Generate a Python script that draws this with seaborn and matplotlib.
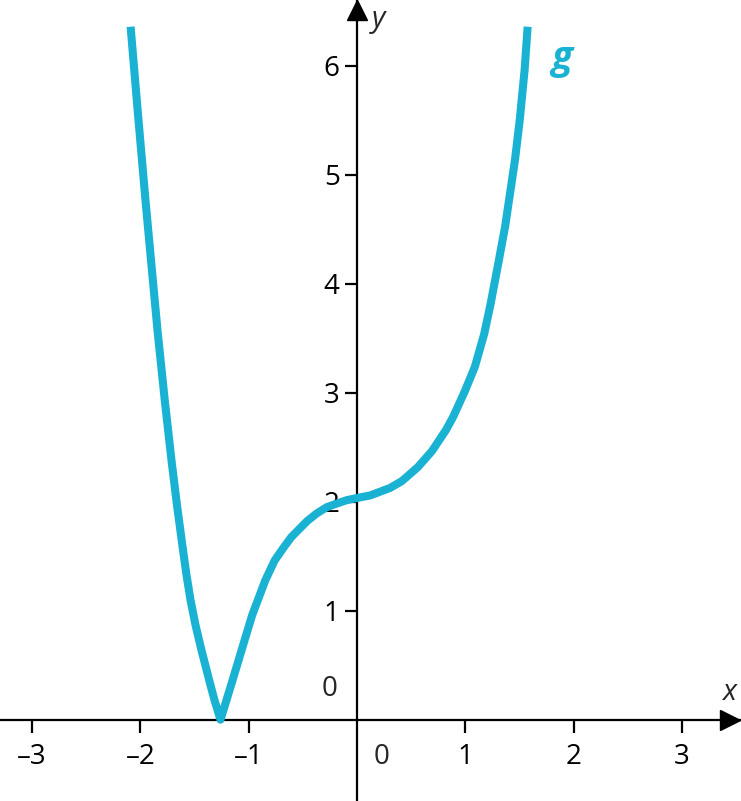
import matplotlib
matplotlib.use("Agg")
import matplotlib.pyplot as plt
import pandas as pd
import seaborn as sns

# curve g (left branch, cusp, middle and right branch)
x_vals = [-2.090, -2.023, -1.953, -1.842, -1.775, -1.713, -1.662, -1.611, -1.576, -1.537,
          -1.491, -1.436, -1.357, -1.316, -1.260,
          -1.148, -1.055, -0.967, -0.847, -0.760, -0.674, -0.608, -0.542, -0.457,
          -0.372, -0.280, -0.187, -0.095, 0.000,
          0.120, 0.305, 0.416, 0.563, 0.693, 0.822, 0.889, 0.997, 1.089,
          1.175, 1.233, 1.302, 1.369, 1.459, 1.503, 1.548, 1.576]
y_vals = [6.358, 5.566, 4.768, 3.575, 2.933, 2.383, 1.970, 1.590, 1.340, 1.098,
          0.869, 0.639, 0.334, 0.181, 0.000,
          0.364, 0.672, 0.961, 1.277, 1.461, 1.584, 1.673, 1.740, 1.825,
          1.892, 1.949, 1.983, 2.014, 2.034,
          2.057, 2.126, 2.190, 2.318, 2.465, 2.658, 2.780, 3.016, 3.239,
          3.540, 3.810, 4.171, 4.530, 5.135, 5.502, 5.961, 6.358]

x_ticks = [-3, -2, -1, 1, 2, 3]
x_tick_labels = ["\u20133", "\u20132", "\u20131", "1", "2", "3"]
y_ticks = [1, 2, 3, 4, 5, 6]
y_tick_labels = ["1", "2", "3", "4", "5", "6"]

curve_name = "g"
line_color = "#19B2D3"

sns.set_theme(style="white")
plt.rcParams["font.family"] = ["Open Sans", "DejaVu Sans"]

df = pd.DataFrame({"x": x_vals, "y": y_vals})

fig = plt.figure(figsize=(7.41, 8.01), dpi=100)
ax = fig.add_axes([0, 0, 1, 1])
ax.set_facecolor("white")

sns.lineplot(data=df, x="x", y="y", sort=False, estimator=None, color=line_color,
             linewidth=5.8, ax=ax, zorder=3)
for ln in ax.get_lines():
    ln.set_solid_joinstyle("round")
    ln.set_solid_capstyle("butt")

xmin, xmax = -3.296, 3.546
ymin, ymax = -0.746, 6.603
ax.set_xlim(xmin, xmax)
ax.set_ylim(ymin, ymax)

for s in ["top", "right"]:
    ax.spines[s].set_visible(False)
ax.spines["bottom"].set_position(("data", 0))
ax.spines["left"].set_position(("data", 0))
for s in ["bottom", "left"]:
    ax.spines[s].set_color("black")
    ax.spines[s].set_linewidth(1.6)

ax.set_xticks(x_ticks, labels=x_tick_labels)
ax.set_yticks(y_ticks, labels=y_tick_labels)
ax.tick_params(axis="x", direction="out", length=9, width=1.6, pad=7.5,
               labelsize=20, colors="black", bottom=True)
ax.tick_params(axis="y", direction="out", length=9, width=1.6, pad=3.5,
               labelsize=20, colors="black", left=True)
ax.set_xlabel("")
ax.set_ylabel("")

# arrow heads
ax.plot([3.449], [0], marker=">", ms=15, color="black", clip_on=False, zorder=4)
ax.plot([0], [6.507], marker="^", ms=15, color="black", clip_on=False, zorder=4)

# axis names and zero labels
ax.text(3.435, 0.245, "x", fontsize=21, style="italic", ha="center", va="center")
ax.text(0.20, 6.42, "y", fontsize=21, style="italic", ha="center", va="center")
ax.text(-0.249, 0.28, "0", fontsize=20, ha="center", va="center")
ax.text(0.228, -0.342, "0", fontsize=20, ha="center", va="center")
ax.text(1.889, 6.07, curve_name, fontsize=28, style="italic", weight="bold",
        color=line_color, ha="center", va="center")

fig.savefig("out.png", dpi=100, facecolor="white")
